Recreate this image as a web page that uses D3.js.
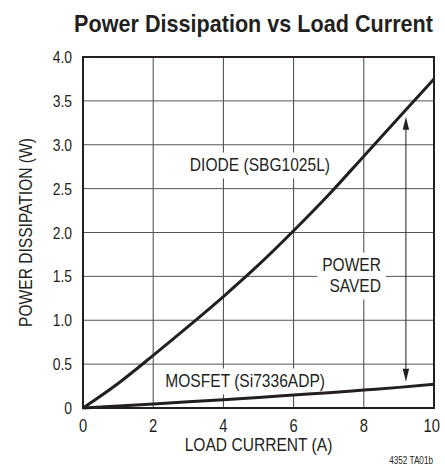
<!DOCTYPE html>
<html>
<head>
<meta charset="utf-8">
<script src="https://cdn.jsdelivr.net/npm/d3@7"></script>
<style>
  html, body { margin: 0; padding: 0; background: #fff; }
  svg { display: block; font-family: "Liberation Sans", Arial, sans-serif; }
</style>
</head>
<body>
<div id="chart"></div>
<script>
// load current (A)
const current = [0, 1, 2, 3, 4, 5, 6, 7, 8, 9, 10];
// power dissipation (W)
const diode = [0, 0.28, 0.6, 0.93, 1.27, 1.63, 2.02, 2.43, 2.87, 3.31, 3.75];
const mosfet = [0, 0.022, 0.045, 0.07, 0.095, 0.12, 0.148, 0.175, 0.205, 0.235, 0.27];

const xTicks = [0, 2, 4, 6, 8, 10];
const yTicks = [0, 0.5, 1, 1.5, 2, 2.5, 3, 3.5, 4];
const yTickLabels = ["0", "0.5", "1.0", "1.5", "2.0", "2.5", "3.0", "3.5", "4.0"];

// arrow "power saved" at 9.2 A, between the two curves
const arrowX = 9.2;
const arrowFrom = 0.3;
const arrowTo = 3.32;

// no narrow font installed, so squeeze Liberation Sans horizontally
const SQUEEZE = 0.82;

function narrowText(parent, x, y, str, size, opts = {}) {
    const rot = opts.rotate ? ` rotate(${opts.rotate})` : "";
    const wrap = parent.append("g")
        .attr("transform", `translate(${x},${y})${rot} scale(${opts.squeeze || SQUEEZE},1)`);
    const t = wrap.append("text")
        .attr("text-anchor", opts.anchor || "start")
        .style("font-size", size + "px")
        .style("font-weight", opts.bold ? "bold" : null)
        .attr("fill", "#231f20");
    const lines = Array.isArray(str) ? str : [str];
    lines.forEach((s, i) => t.append("tspan").attr("x", 0).attr("y", i * (opts.lineHeight || 0)).text(s));
    return { wrap, t };
}

function drawChart(containerId) {
    const width = 445;
    const height = 465;
    const margin = { top: 57, right: 11, bottom: 57, left: 83 };
    const innerWidth = width - margin.left - margin.right;
    const innerHeight = height - margin.top - margin.bottom;

    const svg = d3.select(containerId).append("svg")
        .attr("width", width).attr("height", height)
        .attr("viewBox", [0, 0, width, height]);

    const x = d3.scaleLinear().domain([0, 10]).range([0, innerWidth]);
    const y = d3.scaleLinear().domain([0, 4]).range([innerHeight, 0]);

    narrowText(svg, 253.5, 32, "Power Dissipation vs Load Current", 23.5, { anchor: "middle", bold: true, squeeze: 0.92 });

    const g = svg.append("g").attr("transform", `translate(${margin.left},${margin.top})`);

    // grid
    g.append("g").selectAll("line").data(xTicks.slice(1, -1)).join("line")
        .attr("x1", d => x(d)).attr("x2", d => x(d))
        .attr("y1", 0).attr("y2", innerHeight)
        .attr("stroke", "#444").attr("stroke-width", 1);
    g.append("g").selectAll("line").data(yTicks.slice(1, -1)).join("line")
        .attr("x1", 0).attr("x2", innerWidth)
        .attr("y1", d => y(d)).attr("y2", d => y(d))
        .attr("stroke", "#555").attr("stroke-width", 1);

    // tick labels
    xTicks.forEach(d => {
        narrowText(g, d === 10 ? x(d) + 6 : x(d), innerHeight + 24, String(d), 18,
            { anchor: d === 10 ? "end" : "middle" });
    });
    yTicks.forEach((d, i) => {
        narrowText(g, -11, y(d) + 6, yTickLabels[i], 17, { anchor: "end" });
    });

    // axis titles
    narrowText(svg, margin.left + innerWidth / 2, 451, "LOAD CURRENT (A)", 19, { anchor: "middle" });
    narrowText(svg, 32, margin.top + innerHeight / 2, "POWER DISSIPATION (W)", 19, { anchor: "middle", rotate: -90 });
    narrowText(svg, 433, 464, "4352 TA01b", 10, { anchor: "end" });

    // labels with white boxes that cut the grid
    const labels = [
        { lines: ["DIODE (SBG1025L)"], x: 5.04, y: 2.70, anchor: "middle" },
        { lines: ["MOSFET (Si7336ADP)"], x: 4.62, y: 0.24, anchor: "middle" },
        { lines: ["POWER", "SAVED"], x: 8.49, y: 1.56, anchor: "end" }
    ];
    labels.forEach(l => {
        const { wrap, t } = narrowText(g, x(l.x), y(l.y), l.lines, 19, { anchor: l.anchor, lineHeight: 21 });
        const bb = t.node().getBBox();
        wrap.insert("rect", "text").attr("fill", "#fff")
            .attr("x", bb.x - 6).attr("y", bb.y - 1)
            .attr("width", bb.width + 12).attr("height", bb.height + 4);
    });

    // curves
    const line = d3.line().x((d, i) => x(current[i])).y(d => y(d)).curve(d3.curveMonotoneX);
    g.append("path").datum(diode).attr("d", line)
        .attr("fill", "none").attr("stroke", "#231f20").attr("stroke-width", 3);
    g.append("path").datum(mosfet).attr("d", line)
        .attr("fill", "none").attr("stroke", "#231f20").attr("stroke-width", 3);

    // power saved arrow
    const ax = x(arrowX);
    const headLen = 13, headW = 3.2;
    g.append("line")
        .attr("x1", ax).attr("x2", ax)
        .attr("y1", y(arrowTo) + 4).attr("y2", y(arrowFrom) - 4)
        .attr("stroke", "#231f20").attr("stroke-width", 1);
    g.append("path")
        .attr("d", `M${ax},${y(arrowTo)} L${ax - headW},${y(arrowTo) + headLen} L${ax + headW},${y(arrowTo) + headLen} Z`)
        .attr("fill", "#231f20");
    g.append("path")
        .attr("d", `M${ax},${y(arrowFrom)} L${ax - headW},${y(arrowFrom) - headLen} L${ax + headW},${y(arrowFrom) - headLen} Z`)
        .attr("fill", "#231f20");

    // frame
    g.append("rect")
        .attr("width", innerWidth).attr("height", innerHeight)
        .attr("fill", "none").attr("stroke", "#231f20").attr("stroke-width", 2);
}

drawChart("#chart");
</script>
</body>
</html>
